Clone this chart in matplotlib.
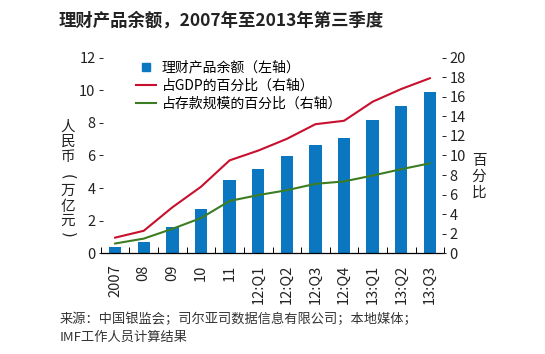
import matplotlib.pyplot as plt
from matplotlib.lines import Line2D
from matplotlib.legend_handler import HandlerLine2D
import numpy as np

plt.rcParams['font.family'] = ['Liberation Sans Narrow', 'Noto Sans CJK SC', 'DejaVu Sans']

# Data
categories = ["2007", "08", "09", "10", "11", "12:Q1", "12:Q2", "12:Q3",
              "12:Q4", "13:Q1", "13:Q2", "13:Q3"]
balance = [0.4, 0.7, 1.6, 2.7, 4.5, 5.2, 5.95, 6.65, 7.05, 8.15, 9.05, 9.9]   # trillion RMB, left
pct_gdp = [1.6, 2.3, 4.7, 6.8, 9.5, 10.5, 11.7, 13.2, 13.55, 15.5, 16.8, 17.9]  # right
pct_dep = [1.0, 1.5, 2.5, 3.6, 5.35, 5.95, 6.45, 7.1, 7.35, 7.95, 8.6, 9.2]   # right

blue = '#0a77c0'
red = '#c8102e'
green = '#3c7d23'
txt = '#222222'
W, H = 545, 354


class RightMarker(HandlerLine2D):
    # put the single square near the right end of the handle
    def get_xdata(self, legend, xdescent, ydescent, width, height, fontsize):
        xdata = np.array([-xdescent, -xdescent + width])
        xm = np.array([-xdescent + width - 0.3 * fontsize])
        return xdata, xm


fig = plt.figure(figsize=(5.45, 3.54), dpi=100)
ax = fig.add_axes([0.185, 0.2845, 0.63, 0.5525])
ax2 = ax.twinx()

x = np.arange(len(categories))
ax.bar(x, balance, width=0.43, color=blue, zorder=2)
ax2.plot(x, pct_gdp, color=red, lw=1.5)
ax2.plot(x, pct_dep, color=green, lw=1.5)

ax.set_xlim(-0.5, len(categories) - 0.5)
ax.set_ylim(0, 12)
ax2.set_ylim(0, 20)
ax.set_yticks(range(0, 13, 2))
ax2.set_yticks(range(0, 21, 2))

for a in (ax, ax2):
    for s in ('top', 'left', 'right'):
        a.spines[s].set_visible(False)
ax2.spines['bottom'].set_visible(False)
ax.spines['bottom'].set_linewidth(0.9)

ax.tick_params(axis='y', direction='inout', length=3.5, width=0.7, pad=2, labelsize=10.5, colors=txt)
ax2.tick_params(axis='y', direction='inout', length=3.5, width=0.7, pad=2, labelsize=10.5, colors=txt)

ax.set_xticks(x)
ax.set_xticklabels(categories, rotation=90, fontsize=10.5, color=txt)
ax.set_xticks(np.arange(-0.5, len(categories), 1), minor=True)
ax.tick_params(axis='x', which='major', length=0, pad=8)
ax.tick_params(axis='x', which='minor', direction='in', length=4, width=0.7)

# vertical axis titles, one character at a time
cjk = ['Noto Sans CJK SC']
left_chars = ["人", "民", "币", "(", "万", "亿", "元", ")"]
left_y = [127, 142, 157, 177, 191, 207, 221, 235]
for ch, yy in zip(left_chars, left_y):
    if ch in "()":
        fig.text(68 / W, 1 - yy / H, ch, ha='center', va='center', rotation=-90,
                 fontsize=10.5, color=txt, family=['DejaVu Sans'])
    else:
        fig.text(68 / W, 1 - yy / H, ch, ha='center', va='center',
                 fontsize=10.5, color=txt, family=cjk)
for ch, yy in zip(["百", "分", "比"], [161, 177, 193]):
    fig.text(479 / W, 1 - yy / H, ch, ha='center', va='center',
             fontsize=10.5, color=txt, family=cjk)

handles = [Line2D([], [], marker='s', ls='none', color=blue, markersize=5.5),
           Line2D([], [], color=red, lw=1.5),
           Line2D([], [], color=green, lw=1.5)]
labels = ["理财产品余额（左轴）", "占GDP的百分比（右轴）", "占存款规模的百分比（右轴）"]
ax2.legend(handles, labels, loc='upper left', bbox_to_anchor=(0.075, 1.034), frameon=False,
           handlelength=1.45, handletextpad=0.36, labelspacing=0.28,
           handler_map={handles[0]: RightMarker()},
           borderaxespad=0.3, prop={'family': ['Noto Sans CJK SC', 'DejaVu Sans'], 'size': 10})

fig.text(0.107, 0.942, "理财产品余额，2007年至2013年第三季度", fontsize=12.5,
         fontweight='bold', color=txt, ha='left', va='center', family=cjk)
fig.text(0.11, 0.073, "来源：中国银监会；司尔亚司数据信息有限公司；本地媒体；\nIMF工作人员计算结果",
         fontsize=9.5, color='#333333', ha='left', va='center', linespacing=1.45,
         family=['Noto Sans CJK SC', 'DejaVu Sans'])

fig.savefig("out.png", dpi=100)
